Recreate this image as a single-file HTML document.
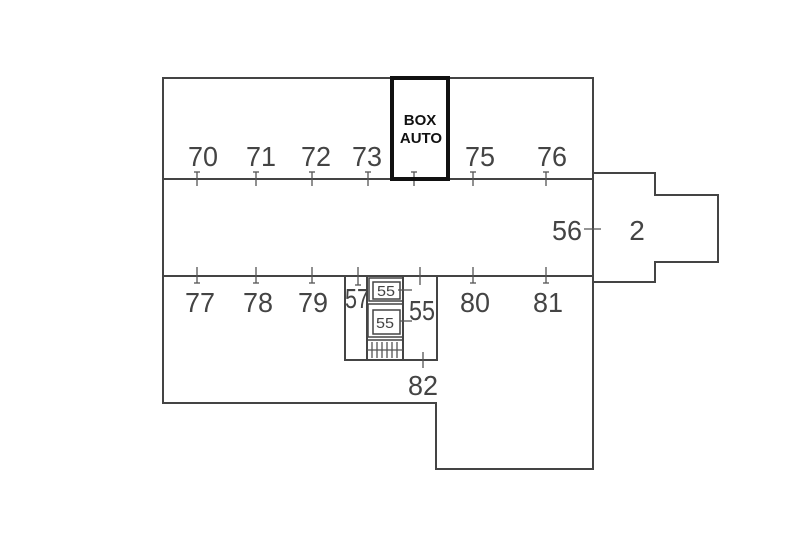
<!DOCTYPE html>
<html><head><style>body{margin:0;background:#fff}</style></head><body>
<svg width="800" height="533" viewBox="0 0 800 533" xmlns="http://www.w3.org/2000/svg">
<g fill="none" stroke="#444" stroke-width="2">
<polyline points="593,276 593,78 163,78 163,403 436,403 436,469 593,469 593,276"/>
<line x1="163" y1="179" x2="593" y2="179"/>
<line x1="163" y1="276" x2="593" y2="276"/>
<polyline points="593,173 655,173 655,195 718,195 718,262 655,262 655,282 593,282"/>
<rect x="345" y="276" width="92" height="84"/>
<line x1="367" y1="276" x2="367" y2="360"/>
<line x1="403" y1="276" x2="403" y2="360"/>
<rect x="369" y="278" width="34" height="23" stroke-width="1.5"/>
<rect x="373" y="282" width="27" height="17" stroke-width="1.5"/>
<rect x="368" y="304" width="35" height="33" stroke-width="1.5"/>
<rect x="373" y="310" width="27" height="24" stroke-width="1.5"/>
<line x1="367" y1="340" x2="403" y2="340" stroke-width="1.5"/>
</g>
<g stroke="#555" stroke-width="1.3">
<line x1="372" y1="342" x2="372" y2="358"/><line x1="377" y1="342" x2="377" y2="358"/><line x1="382" y1="342" x2="382" y2="358"/><line x1="387" y1="342" x2="387" y2="358"/><line x1="392" y1="342" x2="392" y2="358"/><line x1="397" y1="342" x2="397" y2="358"/>
<line x1="367" y1="350" x2="403" y2="350"/>
<line x1="197" y1="172" x2="197" y2="186"/><line x1="194" y1="172" x2="200" y2="172"/>
<line x1="256" y1="172" x2="256" y2="186"/><line x1="253" y1="172" x2="259" y2="172"/>
<line x1="312" y1="172" x2="312" y2="186"/><line x1="309" y1="172" x2="315" y2="172"/>
<line x1="368" y1="172" x2="368" y2="186"/><line x1="365" y1="172" x2="371" y2="172"/>
<line x1="414" y1="172" x2="414" y2="186"/><line x1="411" y1="172" x2="417" y2="172"/>
<line x1="473" y1="172" x2="473" y2="186"/><line x1="470" y1="172" x2="476" y2="172"/>
<line x1="546" y1="172" x2="546" y2="186"/><line x1="543" y1="172" x2="549" y2="172"/>
<line x1="197" y1="267" x2="197" y2="283"/><line x1="194" y1="283" x2="200" y2="283"/>
<line x1="256" y1="267" x2="256" y2="283"/><line x1="253" y1="283" x2="259" y2="283"/>
<line x1="312" y1="267" x2="312" y2="283"/><line x1="309" y1="283" x2="315" y2="283"/>
<line x1="358" y1="267" x2="358" y2="285"/><line x1="355" y1="285" x2="361" y2="285"/>
<line x1="420" y1="267" x2="420" y2="285"/>
<line x1="473" y1="267" x2="473" y2="283"/><line x1="470" y1="283" x2="476" y2="283"/>
<line x1="546" y1="267" x2="546" y2="283"/><line x1="543" y1="283" x2="549" y2="283"/>
<line x1="423" y1="352" x2="423" y2="368"/>
<line x1="584" y1="229" x2="601" y2="229"/>
<line x1="398" y1="290" x2="412" y2="290"/><line x1="400" y1="321" x2="412" y2="321"/>
</g>
<g font-family="Liberation Sans, sans-serif" fill="#444" font-size="28" text-anchor="middle">
<text x="203" y="166" textLength="30" lengthAdjust="spacingAndGlyphs">70</text>
<text x="261" y="166" textLength="30" lengthAdjust="spacingAndGlyphs">71</text>
<text x="316" y="166" textLength="30" lengthAdjust="spacingAndGlyphs">72</text>
<text x="367" y="166" textLength="30" lengthAdjust="spacingAndGlyphs">73</text>
<text x="480" y="166" textLength="30" lengthAdjust="spacingAndGlyphs">75</text>
<text x="552" y="166" textLength="30" lengthAdjust="spacingAndGlyphs">76</text>
<text x="200" y="312" textLength="30" lengthAdjust="spacingAndGlyphs">77</text>
<text x="258" y="312" textLength="30" lengthAdjust="spacingAndGlyphs">78</text>
<text x="313" y="312" textLength="30" lengthAdjust="spacingAndGlyphs">79</text>
<text x="357" y="308" textLength="24" lengthAdjust="spacingAndGlyphs">57</text>
<text x="422" y="320" textLength="26" lengthAdjust="spacingAndGlyphs">55</text>
<text x="475" y="312" textLength="30" lengthAdjust="spacingAndGlyphs">80</text>
<text x="548" y="312" textLength="30" lengthAdjust="spacingAndGlyphs">81</text>
<text x="423" y="395" textLength="30" lengthAdjust="spacingAndGlyphs">82</text>
<text x="567" y="240" textLength="30" lengthAdjust="spacingAndGlyphs">56</text>
<text x="637" y="240">2</text>
<text x="386" y="296" font-size="15" textLength="18" lengthAdjust="spacingAndGlyphs">55</text>
<text x="385" y="328" font-size="15" textLength="18" lengthAdjust="spacingAndGlyphs">55</text>
</g>
<rect x="392" y="78" width="56" height="101" fill="none" stroke="#111" stroke-width="4"/>
<g font-family="Liberation Sans, sans-serif" font-weight="bold" font-size="15" fill="#111" text-anchor="middle">
<text x="420" y="125">BOX</text><text x="421" y="143">AUTO</text>
</g>
</svg>
</body></html>
